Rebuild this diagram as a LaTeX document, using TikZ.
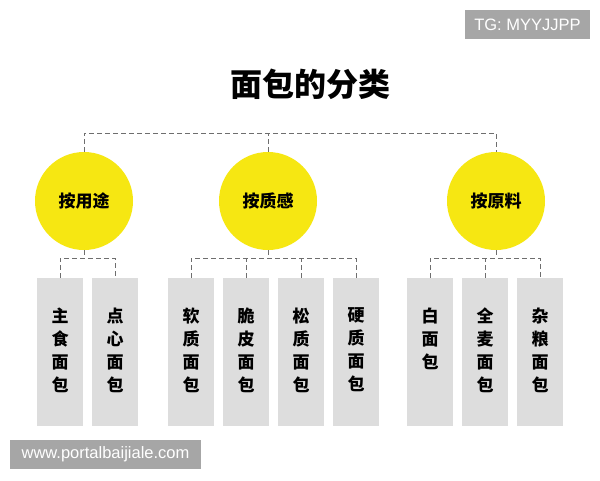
\documentclass[tikz,border=0pt]{standalone}
\usepackage{fontspec}
\usepackage{tikz}
\usetikzlibrary{positioning,calc}
\newfontfamily\cjk{Noto Sans CJK SC}
\newfontfamily\tagfont{Liberation Sans}
\definecolor{circ}{RGB}{246,231,18}
\definecolor{boxgray}{RGB}{221,221,221}
\definecolor{taggray}{RGB}{166,166,166}
\definecolor{dashgray}{RGB}{110,110,110}

\begin{document}
\begin{tikzpicture}[x=1pt,y=-1pt,
    cat/.style={circle, fill=circ, minimum size=98pt, inner sep=0pt,
        font=\cjk\bfseries\fontsize{17}{20}\selectfont},
    kind/.style={rectangle, fill=boxgray, minimum width=46pt, minimum height=148pt, inner sep=0pt},
    kindtext/.style={anchor=north, align=center, inner sep=0pt, yshift=-30pt,
        font=\cjk\bfseries\fontsize{17}{23}\selectfont},
    link/.style={draw=dashgray, dash pattern=on 5pt off 3pt, line width=0.9pt},
    tag/.style={fill=taggray, text=white, inner sep=0pt, font=\tagfont\fontsize{16.5}{18}\selectfont}]
        \useasboundingbox[fill=white] (0,0) rectangle (600,480);

        % watermarks
        \node[tag, minimum width=125pt, minimum height=29pt] (tg) at (527.5,24.5) {TG: MYYJJPP};
        \node[tag, minimum width=191pt, minimum height=29pt] (site) at (105.5,454.5) {www.portalbaijiale.com};

        % title
        \node[font=\cjk\bfseries\fontsize{32}{36}\selectfont] (title) at (310,84) {面包的分类};

        % categories
        \node[cat] (uses) at (84,201) {按用途};
        \node[cat] (texture) at (268,201) {按质感};
        \node[cat] (material) at (496,201) {按原料};

        % kinds
        \foreach \x/\name/\txt in {60/b1/主\\食\\面\\包, 115/b2/点\\心\\面\\包,
                191/b3/软\\质\\面\\包, 246/b4/脆\\皮\\面\\包, 301/b5/松\\质\\面\\包, 356/b6/硬\\质\\面\\包,
                430/b7/白\\面\\包, 485/b8/全\\麦\\面\\包, 540/b9/杂\\粮\\面\\包}
            \node[kind, label={[kindtext]north:\txt}] (\name) at (\x,352) {};

        % top links
        \coordinate (top) at (268,133);
        \draw[link] (uses.north) |- (top -| material.north) -- (material.north);
        \draw[link] (texture.north) -- (top);

        % lower links
        \coordinate (j) at (0,258);
        \draw[link] (uses.south) -- (uses.south |- j);
        \draw[link] (b1.north) |- (b2.north |- j) -- (b2.north);
        \draw[link] (texture.south) -- (texture.south |- j);
        \draw[link] (b3.north) |- (b6.north |- j) -- (b6.north);
        \draw[link] (b4.north) -- (b4.north |- j);
        \draw[link] (b5.north) -- (b5.north |- j);
        \draw[link] (material.south) -- (material.south |- j);
        \draw[link] (b7.north) |- (b9.north |- j) -- (b9.north);
        \draw[link] (b8.north) -- (b8.north |- j);
\end{tikzpicture}
\end{document}
